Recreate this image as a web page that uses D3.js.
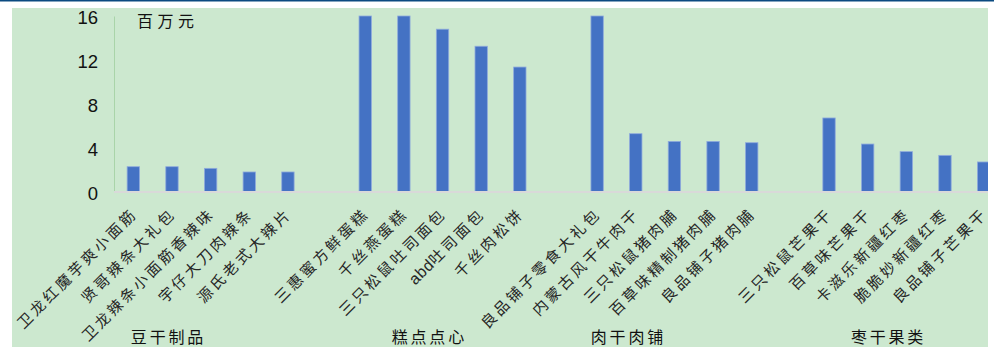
<!DOCTYPE html>
<html>
<head>
<meta charset="utf-8">
<script src="https://cdn.jsdelivr.net/npm/d3@7"></script>
<style>
  html, body { margin: 0; padding: 0; background: #ffffff; }
  svg { display: block; }
</style>
</head>
<body>
<svg id="chart" width="994" height="347"></svg>
<script>
// Sales by product (millions of yuan), grouped by snack category
const groups = ["豆干制品", "糕点点心", "肉干肉铺", "枣干果类"];
const categories = [
  "卫龙红魔芋爽小面筋", "贤哥辣条大礼包", "卫龙辣条小面筋香辣味", "宇仔大刀肉辣条", "源氏老式大辣片",
  "三惠蜜方鲜蛋糕", "千丝燕蛋糕", "三只松鼠吐司面包", "abd吐司面包", "千丝肉松饼",
  "良品铺子零食大礼包", "内蒙古风干牛肉干", "三只松鼠猪肉脯", "百草味精制猪肉脯", "良品铺子猪肉脯",
  "三只松鼠芒果干", "百草味芒果干", "卡滋乐新疆红枣", "脆脆妙新疆红枣", "良品铺子芒果干"
];
const categoryGroup = [0,0,0,0,0, 1,1,1,1,1, 2,2,2,2,2, 3,3,3,3,3];
const sales = [
  2.3, 2.3, 2.15, 1.82, 1.82,
  16, 16, 14.8, 13.25, 11.36,
  16, 5.3, 4.6, 4.6, 4.48,
  6.73, 4.36, 3.67, 3.33, 2.73
];
const yTicks = [0, 4, 8, 12, 16];
const unitLabel = "百万元";

// Slots along the x axis: products, with one empty slot between categories
const slots = [];
categories.forEach((c, i) => {
  if (i > 0 && categoryGroup[i] !== categoryGroup[i - 1]) slots.push("gap-" + categoryGroup[i]);
  slots.push(c);
});

const svg = d3.select("#chart");
const panel = { x0: 12, y0: 8, x1: 988, y1: 347 };
const plotLeft = 114, plotTop = 16, plotBottom = 192;
const step = 38.65;

// top rule
svg.append("rect").attr("x", 0).attr("y", 0).attr("width", 994).attr("height", 1.5).attr("fill", "#0b4a80");

svg.append("clipPath").attr("id", "panelClip")
  .append("rect").attr("x", panel.x0).attr("y", panel.y0)
  .attr("width", panel.x1 - panel.x0).attr("height", panel.y1 - panel.y0);

const g = svg.append("g").attr("clip-path", "url(#panelClip)");
g.append("rect").attr("x", panel.x0).attr("y", panel.y0)
  .attr("width", panel.x1 - panel.x0).attr("height", panel.y1 - panel.y0)
  .attr("fill", "#cce8cf");

const x = d3.scaleBand().domain(slots)
  .range([plotLeft, plotLeft + slots.length * step])
  .paddingInner(0.68).paddingOuter(0.34);
const y = d3.scaleLinear().domain([0, 16]).range([plotBottom, plotTop]);

// y axis
const yAxis = d3.axisLeft(y).tickValues(yTicks).tickSize(0).tickPadding(16);
const ya = g.append("g").attr("transform", `translate(${plotLeft},0)`).call(yAxis);
ya.select(".domain").attr("stroke", "#a9d4a9").attr("stroke-width", 1);
ya.selectAll("text")
  .attr("font-family", "'Liberation Sans', Arial, sans-serif")
  .attr("font-size", 18.5).attr("fill", "#111").attr("dy", "0.4em");

// bars
g.append("g").selectAll("rect").data(categories).join("rect")
  .attr("x", d => x(d))
  .attr("width", x.bandwidth())
  .attr("y", (d, i) => y(sales[i]))
  .attr("height", (d, i) => plotBottom - y(sales[i]))
  .attr("fill", "#4472c4")
  .attr("stroke", "#8faadc")
  .attr("stroke-width", 0.8);

// baseline
g.append("line").attr("x1", plotLeft).attr("x2", panel.x1)
  .attr("y1", plotBottom).attr("y2", plotBottom)
  .attr("stroke", "#d9d9d9").attr("stroke-width", 2);

// product labels, slanted; latin runs are set tight, CJK runs spaced
const labels = g.append("g").selectAll("text").data(categories).join("text")
  .attr("transform", d => `translate(${x(d) + x.bandwidth() / 2 + 2},${212}) rotate(-45)`)
  .attr("text-anchor", "end")
  .attr("dominant-baseline", "middle")
  .attr("font-family", "'Noto Sans CJK SC', sans-serif")
  .attr("font-size", 15)
  .attr("fill", "#262626");
labels.each(function (d) {
  const t = d3.select(this);
  (d.match(/[A-Za-z0-9]+|[^A-Za-z0-9]+/g) || []).forEach(run => {
    const latin = /^[A-Za-z0-9]+$/.test(run);
    t.append("tspan")
      .attr("letter-spacing", latin ? 0.5 : 3)
      .attr("font-family", latin ? "'Liberation Sans', Arial, sans-serif" : null)
      .attr("font-size", latin ? 16 : null)
      .text(run);
  });
});

// category labels
const groupLabelSlot = [0.87, 7.62, 12.77, 19.5];
g.append("g").selectAll("text").data(groups).join("text")
  .attr("x", (d, i) => x(slots[0]) + x.bandwidth() / 2 + groupLabelSlot[i] * x.step() + 1.5)
  .attr("y", 343)
  .attr("text-anchor", "middle")
  .attr("font-family", "'Noto Sans CJK SC', sans-serif")
  .attr("font-size", 16)
  .attr("letter-spacing", 2.8)
  .attr("fill", "#111")
  .text(d => d);

// unit label
g.append("text").attr("x", 137).attr("y", 27)
  .attr("font-family", "'Noto Sans CJK SC', sans-serif")
  .attr("font-size", 16)
  .attr("letter-spacing", 4.5)
  .attr("fill", "#111")
  .text(unitLabel);
</script>
</body>
</html>
